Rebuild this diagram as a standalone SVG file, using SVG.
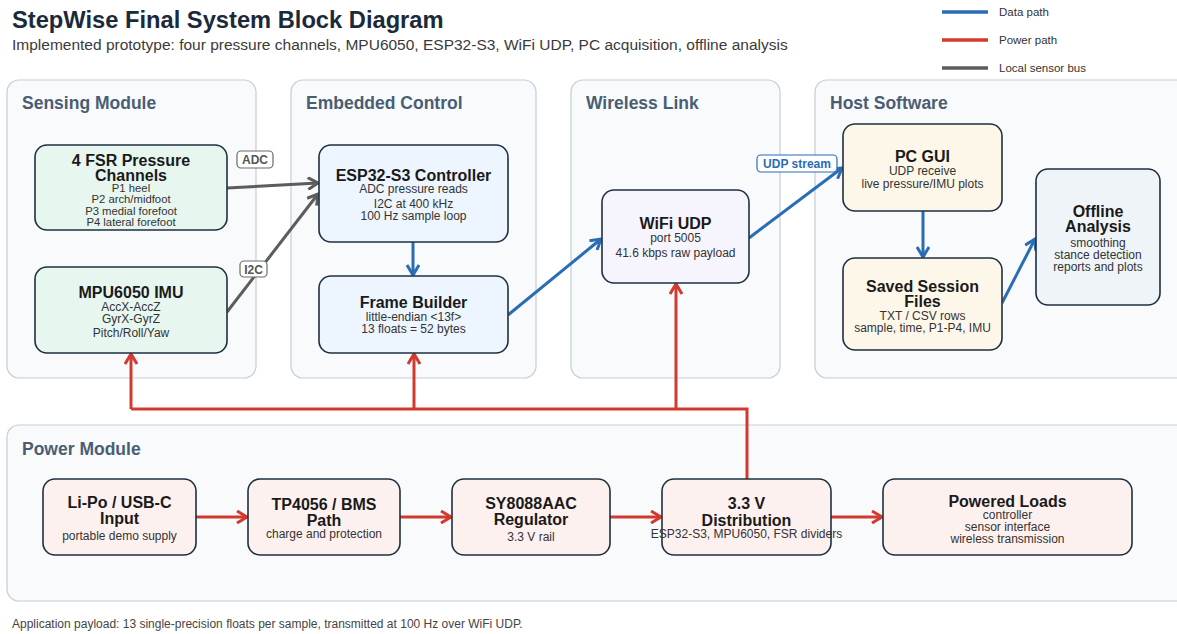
<svg xmlns="http://www.w3.org/2000/svg" width="1177" height="634" viewBox="0 0 1177 634">
<style>
text{font-family:"Liberation Sans",Arial,sans-serif}
.grp{fill:#f8fafc;stroke:#c5ced8;stroke-width:1.2}
.gt{font-size:17.5px;font-weight:bold;fill:#4a5e73}
.node{stroke:#1e3040;stroke-width:1.6}
.nt{font-size:16px;font-weight:bold;fill:#1a1a1a;text-anchor:middle}
.ns{font-size:12px;fill:#333;text-anchor:middle}
.ns2{font-size:11.3px;fill:#333;text-anchor:middle}
.sen{fill:#e8f6f0}.emb{fill:#edf5fe}.wl{fill:#f6f4fd}.host{fill:#fdf7e9}.off{fill:#eff4f8}.pw{fill:#fdf1ef}
.data{stroke:#2a6db5;stroke-width:3;fill:none}
.pow{stroke:#d33a2f;stroke-width:3;fill:none}
.bus{stroke:#5c5c5c;stroke-width:3;fill:none}
.leg{font-size:11.5px;fill:#333}
</style>
<defs>
<marker id="aB" viewBox="0 0 14 14" refX="11" refY="7" markerWidth="14" markerHeight="14" markerUnits="userSpaceOnUse" orient="auto"><path d="M1,1 L11,7 L1,13" fill="none" stroke="#2a6db5" stroke-width="3"/></marker>
<marker id="aR" viewBox="0 0 14 14" refX="11" refY="7" markerWidth="14" markerHeight="14" markerUnits="userSpaceOnUse" orient="auto"><path d="M1,1 L11,7 L1,13" fill="none" stroke="#d33a2f" stroke-width="3"/></marker>
<marker id="aG" viewBox="0 0 14 14" refX="11" refY="7" markerWidth="14" markerHeight="14" markerUnits="userSpaceOnUse" orient="auto"><path d="M1,1 L11,7 L1,13" fill="none" stroke="#5c5c5c" stroke-width="3"/></marker>
</defs>
<rect width="1177" height="634" fill="#ffffff"/>
<text x="12" y="28" font-size="23.7" font-weight="bold" fill="#1b2a3a">StepWise Final System Block Diagram</text>
<text x="12" y="50" font-size="15.5" fill="#3a3a3a">Implemented prototype: four pressure channels, MPU6050, ESP32-S3, WiFi UDP, PC acquisition, offline analysis</text>
<g id="legend">
<line x1="942" y1="12" x2="988" y2="12" stroke="#2a6db5" stroke-width="3.5"/>
<text x="999" y="16" class="leg">Data path</text>
<line x1="942" y1="40" x2="988" y2="40" stroke="#d33a2f" stroke-width="3.5"/>
<text x="999" y="44" class="leg">Power path</text>
<line x1="942" y1="68" x2="988" y2="68" stroke="#5c5c5c" stroke-width="3.5"/>
<text x="999" y="72" class="leg">Local sensor bus</text>
</g>
<g id="groups">
<rect class="grp" x="7" y="80" width="249" height="298" rx="12"/>
<text class="gt" x="22" y="109">Sensing Module</text>
<rect class="grp" x="291" y="80" width="245" height="298" rx="12"/>
<text class="gt" x="306" y="109">Embedded Control</text>
<rect class="grp" x="571" y="80" width="209" height="298" rx="12"/>
<text class="gt" x="586" y="109">Wireless Link</text>
<rect class="grp" x="815" y="80" width="380" height="298" rx="12"/>
<text class="gt" x="830" y="109">Host Software</text>
<rect class="grp" x="7" y="425" width="1190" height="176" rx="12"/>
<text class="gt" x="22" y="455">Power Module</text>
</g>
<g id="connectors">
<line class="bus" x1="227" y1="188" x2="318" y2="183" marker-end="url(#aG)"/>
<line class="bus" x1="227" y1="312" x2="318" y2="194" marker-end="url(#aG)"/>
<line class="data" x1="413" y1="242" x2="413" y2="275" marker-end="url(#aB)"/>
<line class="data" x1="508" y1="315" x2="601" y2="239" marker-end="url(#aB)"/>
<line class="data" x1="749" y1="238" x2="842" y2="168" marker-end="url(#aB)"/>
<line class="data" x1="923" y1="211" x2="923" y2="257" marker-end="url(#aB)"/>
<line class="data" x1="1002" y1="303" x2="1035" y2="239" marker-end="url(#aB)"/>
<polyline class="pow" points="747,479 747,409 131,409"/>
<line class="pow" x1="131" y1="409" x2="131" y2="354" marker-end="url(#aR)"/>
<line class="pow" x1="414" y1="409" x2="414" y2="354" marker-end="url(#aR)"/>
<line class="pow" x1="676" y1="409" x2="676" y2="284" marker-end="url(#aR)"/>
<line class="pow" x1="196" y1="517" x2="247" y2="517" marker-end="url(#aR)"/>
<line class="pow" x1="400" y1="517" x2="451" y2="517" marker-end="url(#aR)"/>
<line class="pow" x1="610" y1="517" x2="661" y2="517" marker-end="url(#aR)"/>
<line class="pow" x1="831" y1="517" x2="882" y2="517" marker-end="url(#aR)"/>
<rect x="237" y="151" width="36" height="17" rx="4" fill="#fff" stroke="#6a6a6a" stroke-width="1.2"/>
<text x="255" y="164" font-size="12" font-weight="bold" fill="#555" text-anchor="middle">ADC</text>
<rect x="240" y="261" width="27" height="16" rx="4" fill="#fff" stroke="#6a6a6a" stroke-width="1.2"/>
<text x="253.5" y="274" font-size="12" font-weight="bold" fill="#555" text-anchor="middle">I2C</text>
<rect x="757" y="155" width="80" height="17" rx="4" fill="#fff" stroke="#2a6db5" stroke-width="1.2"/>
<text x="797" y="168" font-size="12" font-weight="bold" fill="#2a6db5" text-anchor="middle">UDP stream</text>
</g>
<g id="fsr">
<rect class="node sen" x="35" y="145" width="192" height="85" rx="12"/>
<text class="nt" x="131" y="166">4 FSR Pressure</text>
<text class="nt" x="131" y="181">Channels</text>
<text class="ns2" x="131" y="192">P1 heel</text>
<text class="ns2" x="131" y="203.3">P2 arch/midfoot</text>
<text class="ns2" x="131" y="214.6">P3 medial forefoot</text>
<text class="ns2" x="131" y="226">P4 lateral forefoot</text>
</g>
<g id="imu">
<rect class="node sen" x="35" y="267" width="192" height="86" rx="12"/>
<text class="nt" x="131" y="298">MPU6050 IMU</text>
<text class="ns" x="131" y="311">AccX-AccZ</text>
<text class="ns" x="131" y="323">GyrX-GyrZ</text>
<text class="ns" x="131" y="337">Pitch/Roll/Yaw</text>
</g>
<g id="esp32">
<rect class="node emb" x="319" y="145" width="189" height="97" rx="12"/>
<text class="nt" x="413.5" y="181">ESP32-S3 Controller</text>
<text class="ns" x="413.5" y="193">ADC pressure reads</text>
<text class="ns" x="413.5" y="208">I2C at 400 kHz</text>
<text class="ns" x="413.5" y="220">100 Hz sample loop</text>
</g>
<g id="frame">
<rect class="node emb" x="319" y="276" width="189" height="77" rx="12"/>
<text class="nt" x="413.5" y="308">Frame Builder</text>
<text class="ns" x="413.5" y="321">little-endian &lt;13f&gt;</text>
<text class="ns" x="413.5" y="333">13 floats = 52 bytes</text>
</g>
<g id="wifi">
<rect class="node wl" x="602" y="190" width="147" height="93" rx="12"/>
<text class="nt" x="675.5" y="229">WiFi UDP</text>
<text class="ns" x="675.5" y="242">port 5005</text>
<text class="ns" x="675.5" y="257">41.6 kbps raw payload</text>
</g>
<g id="pcgui">
<rect class="node host" x="843" y="124" width="159" height="87" rx="12"/>
<text class="nt" x="922.5" y="162">PC GUI</text>
<text class="ns" x="922.5" y="175">UDP receive</text>
<text class="ns" x="922.5" y="188">live pressure/IMU plots</text>
</g>
<g id="saved">
<rect class="node host" x="843" y="258" width="159" height="92" rx="12"/>
<text class="nt" x="922.5" y="292">Saved Session</text>
<text class="nt" x="922.5" y="307">Files</text>
<text class="ns" x="922.5" y="320">TXT / CSV rows</text>
<text class="ns" x="922.5" y="332">sample, time, P1-P4, IMU</text>
</g>
<g id="offline">
<rect class="node off" x="1036" y="169" width="124" height="136" rx="12"/>
<text class="nt" x="1098" y="217">Offline</text>
<text class="nt" x="1098" y="232">Analysis</text>
<text class="ns" x="1098" y="247">smoothing</text>
<text class="ns" x="1098" y="259">stance detection</text>
<text class="ns" x="1098" y="271">reports and plots</text>
</g>
<g id="lipo">
<rect class="node pw" x="43" y="479" width="153" height="76" rx="12"/>
<text class="nt" x="119.5" y="508">Li-Po / USB-C</text>
<text class="nt" x="119.5" y="524">Input</text>
<text class="ns" x="119.5" y="540">portable demo supply</text>
</g>
<g id="tp4056">
<rect class="node pw" x="248" y="479" width="152" height="76" rx="12"/>
<text class="nt" x="324" y="510">TP4056 / BMS</text>
<text class="nt" x="324" y="526">Path</text>
<text class="ns" x="324" y="538">charge and protection</text>
</g>
<g id="sy8088">
<rect class="node pw" x="452" y="479" width="158" height="76" rx="12"/>
<text class="nt" x="531" y="509">SY8088AAC</text>
<text class="nt" x="531" y="525">Regulator</text>
<text class="ns" x="531" y="541">3.3 V rail</text>
</g>
<g id="dist">
<rect class="node pw" x="662" y="479" width="169" height="76" rx="12"/>
<text class="nt" x="746.5" y="509">3.3 V</text>
<text class="nt" x="746.5" y="526">Distribution</text>
<text class="ns" x="746.5" y="538">ESP32-S3, MPU6050, FSR dividers</text>
</g>
<g id="loads">
<rect class="node pw" x="883" y="479" width="249" height="76" rx="12"/>
<text class="nt" x="1007.5" y="507">Powered Loads</text>
<text class="ns" x="1007.5" y="519">controller</text>
<text class="ns" x="1007.5" y="531">sensor interface</text>
<text class="ns" x="1007.5" y="543">wireless transmission</text>
</g>
<text x="12" y="628" font-size="12" fill="#444">Application payload: 13 single-precision floats per sample, transmitted at 100 Hz over WiFi UDP.</text>
</svg>
